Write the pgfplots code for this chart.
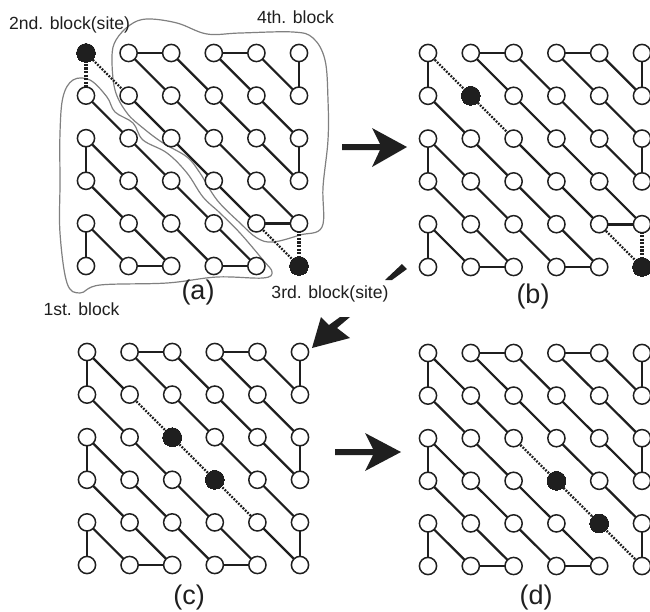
\documentclass[border=0pt]{standalone}
\usepackage{fontspec}
\setmainfont{Liberation Sans}
\usepackage{pgfplots}
\pgfplotsset{compat=1.18}
\definecolor{ink}{gray}{0.12}
\definecolor{blob}{gray}{0.5}
\pgfplotsset{
  lattice/.style={hide axis,scale only axis,clip=false,xmin=0,xmax=5,ymin=0,ymax=5,y dir=reverse,anchor=north west,unbounded coords=jump},
  thinE/.style={no markers,color=ink,line width=2.2pt},
  thickE/.style={no markers,color=ink,line width=2.9pt},
  dotD/.style={no markers,color=ink,line width=2.4pt,dash pattern=on 1.8pt off 1.4pt},
  dotV/.style={no markers,color=ink,line width=3.2pt,dash pattern=on 2.2pt off 1.4pt},
  openN/.style={only marks,mark=*,mark size=8.6pt,mark options={fill=white,draw=ink,line width=1.5pt}},
  fullN/.style={only marks,mark=*,mark size=9.4pt,mark options={fill=ink,draw=ink,line width=0pt}},
}
\newcommand{\commonE}{%
  \addplot[thinE] coordinates {(4,0) (5,1) (nan,nan) (3,0) (5,2) (nan,nan) (2,0) (5,3) (nan,nan) (1,0) (5,4) (nan,nan)
    (0,1) (4,5) (nan,nan) (0,2) (3,5) (nan,nan) (0,3) (2,5) (nan,nan) (0,4) (1,5)};
  \addplot[thickE] coordinates {(5,0) (5,1) (nan,nan) (5,2) (5,3) (nan,nan) (0,2) (0,3) (nan,nan) (0,4) (0,5) (nan,nan)
    (1,0) (2,0) (nan,nan) (3,0) (4,0) (nan,nan) (1,5) (2,5) (nan,nan) (3,5) (4,5)};
}
\newcommand{\commonN}{%
  \addplot[openN] coordinates {
    (0,0) (1,0) (2,0) (3,0) (4,0) (5,0)
    (0,1) (1,1) (2,1) (3,1) (4,1) (5,1)
    (0,2) (1,2) (2,2) (3,2) (4,2) (5,2)
    (0,3) (1,3) (2,3) (3,3) (4,3) (5,3)
    (0,4) (1,4) (2,4) (3,4) (4,4) (5,4)
    (0,5) (1,5) (2,5) (3,5) (4,5) (5,5)};
}
\begin{document}
\begin{tikzpicture}
\path[use as bounding box] (0pt,0pt) rectangle (650pt,-612pt);
\begin{axis}[at={(0pt,0pt)},anchor=north west,hide axis,scale only axis,clip=false,
  width=650pt,height=612pt,xmin=0,xmax=650,ymin=0,ymax=612,y dir=reverse]
  % 4th block outline
  \addplot[no markers,color=blob,line width=1.2pt,smooth cycle,tension=0.6] coordinates {
    (112,57) (116,40) (130,25) (147,19) (177,23) (207,34) (240,33) (293,32) (313,38)
    (325,60) (328,100) (328,140) (323,187) (322,227) (300,235) (273,242) (257,238)
    (240,223) (217,200) (200,173) (187,157) (163,143) (143,128) (127,113) (115,90)};
  % 1st block outline
  \addplot[no markers,color=blob,line width=1.2pt,smooth cycle,tension=0.6] coordinates {
    (60,133) (63,97) (73,80) (90,80) (107,97) (115,112) (133,123) (143,140) (167,153)
    (187,173) (203,197) (220,213) (240,233) (263,260) (272,272) (263,278) (217,277)
    (167,283) (100,285) (80,293) (67,283) (60,233) (60,183)};
  % arrows
  \addplot[fill=ink,draw=none] coordinates {(342,144) (380,144) (372,128) (407,147) (372,167) (380,150) (342,150)} --cycle;
  \addplot[fill=ink,draw=none] coordinates {(402,264) (407,269) (392,280) (385,280)} --cycle;
  \addplot[fill=ink,draw=none] coordinates {(312,348) (321,317) (329,325) (340,317) (350,317) (337,328) (350,338)} --cycle;
  \addplot[fill=ink,draw=none] coordinates {(335,449) (373,449) (365,433) (401,452) (365,471) (373,455) (335,455)} --cycle;
  % texts
  \node[text=ink,font=\fontsize{17.6}{20}\selectfont,anchor=center] at (axis cs:69.5,25) {2nd. block(site)};
  \node[text=ink,font=\fontsize{17.6}{20}\selectfont,anchor=center] at (axis cs:295.5,17) {4th. block};
  \node[text=ink,font=\fontsize{17.6}{20}\selectfont,anchor=center] at (axis cs:81.5,309) {1st. block};
  \node[text=ink,font=\fontsize{17.6}{20}\selectfont,anchor=center] at (axis cs:330,294) {3rd. block(site)};
  \node[text=ink,font=\fontsize{27}{30}\selectfont,anchor=center] at (axis cs:198,293) {(a)};
  \node[text=ink,font=\fontsize{27}{30}\selectfont,anchor=center] at (axis cs:533,297) {(b)};
  \node[text=ink,font=\fontsize{27}{30}\selectfont,anchor=center] at (axis cs:189,597) {(c)};
  \node[text=ink,font=\fontsize{27}{30}\selectfont,anchor=center] at (axis cs:536,597) {(d)};
\end{axis}
% (a)
\begin{axis}[lattice,at={(86pt,-53pt)},width=213pt,height=213pt]
  \commonE
  \addplot[thinE] coordinates {(1,1) (4,4)};
  \addplot[thickE] coordinates {(4,4) (5,4)};
  \addplot[dotD] coordinates {(0,0) (1,1) (nan,nan) (4,4) (5,5)};
  \addplot[dotV] coordinates {(0,0) (0,1) (nan,nan) (5,4) (5,5)};
  \commonN
  \addplot[fullN] coordinates {(0,0) (5,5)};
\end{axis}
% (b)
\begin{axis}[lattice,at={(428pt,-53pt)},width=214pt,height=214pt]
  \commonE
  \addplot[thinE] coordinates {(2,2) (4,4)};
  \addplot[thickE] coordinates {(0,0) (0,1) (nan,nan) (4,4) (5,4)};
  \addplot[dotD] coordinates {(0,0) (2,2) (nan,nan) (4,4) (5,5)};
  \addplot[dotV] coordinates {(5,4) (5,5)};
  \commonN
  \addplot[fullN] coordinates {(1,1) (5,5)};
\end{axis}
% (c)
\begin{axis}[lattice,at={(87pt,-352pt)},width=213pt,height=213pt]
  \commonE
  \addplot[thinE] coordinates {(0,0) (1,1) (nan,nan) (4,4) (5,5)};
  \addplot[thickE] coordinates {(0,0) (0,1) (nan,nan) (5,4) (5,5)};
  \addplot[dotD] coordinates {(1,1) (4,4)};
  \commonN
  \addplot[fullN] coordinates {(2,2) (3,3)};
\end{axis}
% (d)
\begin{axis}[lattice,at={(428pt,-353pt)},width=214pt,height=213pt]
  \commonE
  \addplot[thinE] coordinates {(0,0) (2,2)};
  \addplot[thickE] coordinates {(0,0) (0,1) (nan,nan) (5,4) (5,5)};
  \addplot[dotD] coordinates {(2,2) (5,5)};
  \commonN
  \addplot[fullN] coordinates {(3,3) (4,4)};
\end{axis}
\end{tikzpicture}
\end{document}
